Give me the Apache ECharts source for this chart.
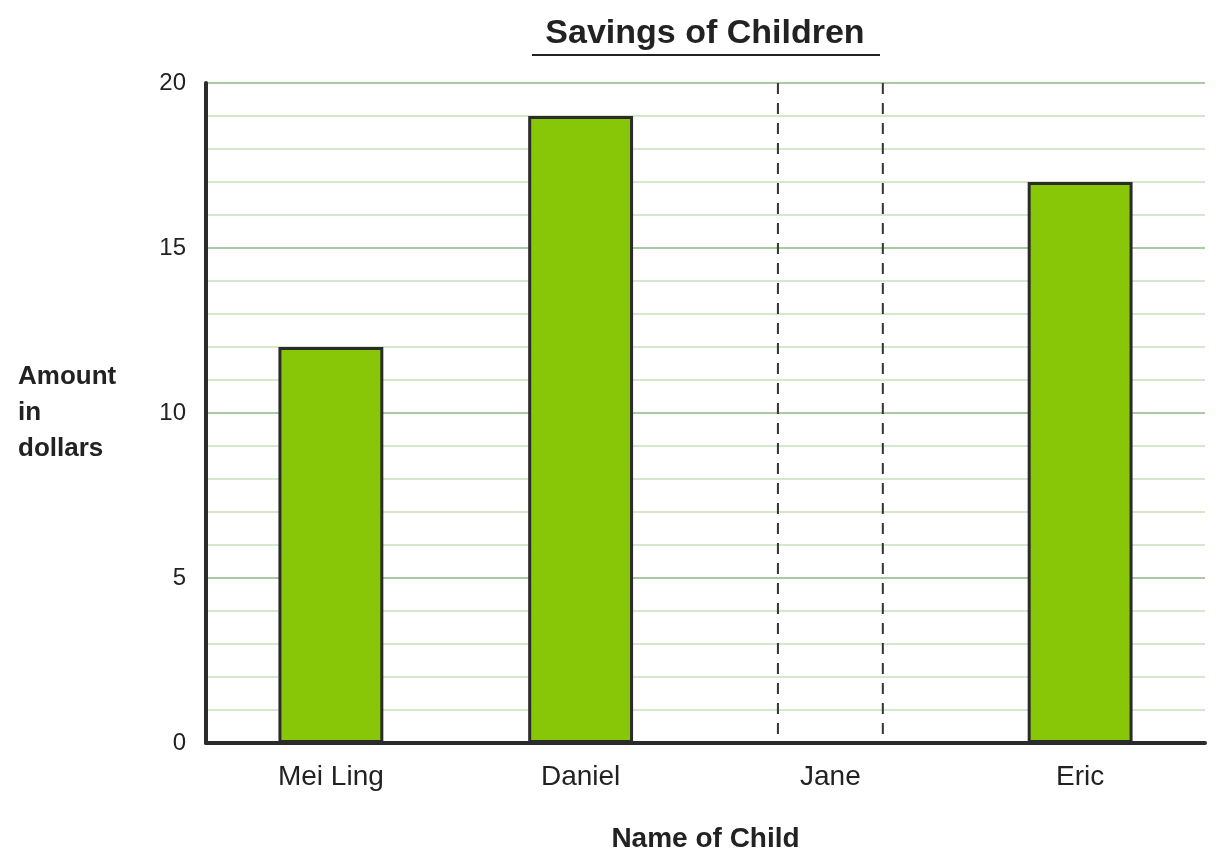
<!DOCTYPE html>
<html>
<head>
<meta charset="utf-8">
<title>Savings of Children</title>
<script src="https://cdn.jsdelivr.net/npm/echarts@6/dist/echarts.min.js"></script>
<style>
    html, body { margin: 0; padding: 0; background: #fff; }
    #chart { width: 1224px; height: 865px; }
</style>
</head>
<body>
<div id="chart"></div>
<script>
// 数据
const children = ['Mei Ling', 'Daniel', 'Jane', 'Eric'];
const savings = [12, 19, null, 17];
// Jane 的柱子未知，用虚线框表示（高度到 20）
const missingChild = ['Jane'];
const missingTop = [20];

const yTicks = [0, 5, 10, 15, 20];

const chart = echarts.init(document.getElementById('chart'));
const font = '"Liberation Sans", Arial, sans-serif';
const barRatio = 0.42;

const option = {
    animation: false,
    title: {
        text: 'Savings of Children',
        left: 700,
        textAlign: 'center',
        top: 12,
        textStyle: { fontFamily: font, fontSize: 34, fontWeight: 'bold', color: '#222' }
    },
    graphic: [{
        type: 'line',
        shape: { x1: 532, y1: 55, x2: 880, y2: 55 },
        style: { stroke: '#222', lineWidth: 2 }
    }],
    grid: { left: 206, right: 19, top: 83, bottom: 122 },
    xAxis: {
        type: 'category',
        data: children,
        name: 'Name of Child',
        nameLocation: 'middle',
        nameGap: 82,
        nameTextStyle: { fontFamily: font, fontSize: 28, fontWeight: 'bold', color: '#222' },
        axisLine: { lineStyle: { color: '#2b2b2b', width: 4 } },
        axisTick: { show: false },
        axisLabel: { fontFamily: font, fontSize: 28, color: '#222', margin: 20 }
    },
    yAxis: {
        type: 'value',
        min: 0,
        max: 20,
        interval: 5,
        name: 'Amount\nin\ndollars',
        nameLocation: 'middle',
        nameRotate: 0,
        nameGap: 188,
        nameTextStyle: { fontFamily: font, fontSize: 26, fontWeight: 'bold', color: '#222', align: 'left', lineHeight: 36 },
        axisLine: { show: true, lineStyle: { color: '#2b2b2b', width: 4 } },
        axisTick: { show: false },
        axisLabel: {
            fontFamily: font, fontSize: 24, color: '#222', margin: 20,
            formatter: v => yTicks.includes(v) ? String(v) : ''
        },
        splitLine: { show: true, lineStyle: { color: '#a9c9a3', width: 2 } },
        minorTick: { show: false, splitNumber: 5 },
        minorSplitLine: { show: true, lineStyle: { color: '#d6e8cc', width: 2 } }
    },
    series: [
        {
            type: 'bar',
            data: savings,
            barWidth: (barRatio * 100) + '%',
            itemStyle: { color: '#88c708', borderColor: '#2b2b2b', borderWidth: 3 },
            z: 3
        },
        {
            type: 'custom',
            data: missingChild.map((c, i) => [c, missingTop[i]]),
            z: 4,
            renderItem: function (params, api) {
                const top = api.coord([api.value(0), api.value(1)]);
                const bottom = api.coord([api.value(0), 0]);
                const half = api.size([1, 0])[0] * barRatio / 2;
                const style = { stroke: '#333', lineWidth: 2, lineDash: [11, 9] };
                return {
                    type: 'group',
                    children: [
                        { type: 'line', shape: { x1: top[0] - half, y1: top[1], x2: bottom[0] - half, y2: bottom[1] }, style: style },
                        { type: 'line', shape: { x1: top[0] + half, y1: top[1], x2: bottom[0] + half, y2: bottom[1] }, style: style }
                    ]
                };
            }
        }
    ]
};

chart.setOption(option);
</script>
</body>
</html>
